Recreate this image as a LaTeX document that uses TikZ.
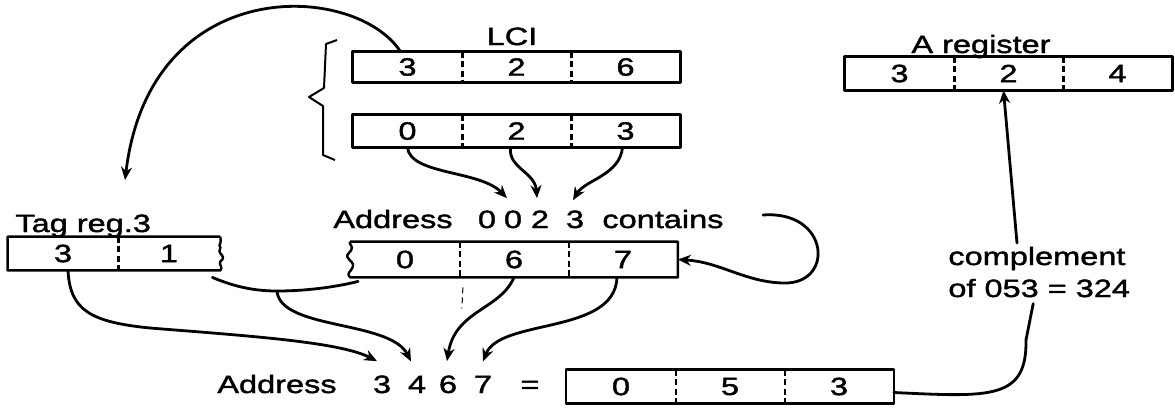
\documentclass[tikz,border=0pt]{standalone}
\usepackage{fontspec}
\setmainfont{Liberation Sans}[FakeStretch=1.3,FakeBold=1.6]
\usetikzlibrary{arrows.meta,calc}
\begin{document}
\begin{tikzpicture}[x=0.5pt,y=-0.5pt,
  txt/.style={font=\fontsize{12.5}{14}\selectfont},
  cell/.style={txt, inner sep=0pt, minimum width=54.5pt},
  box/.style={line width=1.2pt, line join=round},
  divider/.style={line width=1.3pt, dash pattern=on 3pt off 1.8pt},
  conn/.style={line width=1.4pt, line cap=round},
  arr/.style={conn, -{Stealth[length=6.5pt,width=5.5pt]}},
  lbl/.style={txt, inner sep=0pt},
]
\useasboundingbox (0,0) rectangle (1175,409);

% ---------- LCI registers ----------
\node[cell, minimum height=15pt] (l1a) at (407.5,67) {3};
\node[cell, minimum height=15pt] (l1b) at (516.5,67) {2};
\node[cell, minimum height=15pt] (l1c) at (625.5,67) {6};
\draw[box] (l1a.north west) rectangle (l1c.south east);
\draw[divider] (l1a.north east) -- (l1a.south east);
\draw[divider] (l1b.north east) -- (l1b.south east);
\node[lbl, anchor=base] (lci) at (512,45) {LCI};

\node[cell, minimum height=16pt] (l2a) at (407.5,131) {0};
\node[cell, minimum height=16pt] (l2b) at (516.5,131) {2};
\node[cell, minimum height=16pt] (l2c) at (625.5,131) {3};
\draw[box] (l2a.north west) rectangle (l2c.south east);
\draw[divider] (l2a.north east) -- (l2a.south east);
\draw[divider] (l2b.north east) -- (l2b.south east);

% brace
\draw[line width=1pt, line join=round] (337,40) -- (326,44) -- (324,88) -- (309,97) -- (323,106) -- (323,155) -- (335,160);

% ---------- A register ----------
\node[cell, minimum height=16.5pt] (a1) at (899.5,73.5) {3};
\node[cell, minimum height=16.5pt] (a2) at (1008.5,73.5) {2};
\node[cell, minimum height=16.5pt] (a3) at (1117.5,73.5) {4};
\draw[box] (a1.north west) rectangle (a3.south east);
\draw[divider] (a1.north east) -- (a1.south east);
\draw[divider] (a2.north east) -- (a2.south east);
\node[lbl, anchor=base] (areg) at (981,53) {A register};

% ---------- Tag reg.3 ----------
\node[cell, minimum width=55pt, minimum height=16.5pt] (t1) at (63,253.5) {3};
\node[cell, minimum width=51pt, minimum height=16.5pt] (t2) at (169,253.5) {1};
\draw[box] (t2.north east) -- (t1.north west) -- (t1.south west) -- (t2.south east)
  .. controls +(3,-3) and +(-2,3) .. ++(0,-9)
  .. controls +(4,-3) and +(3,3) .. ++(0,-8)
  .. controls +(-3,-3) and +(3,3) .. ++(-1,-8)
  .. controls +(2,-3) and +(0,2) .. (t2.north east);
\draw[divider] (t1.north east) -- (t1.south east);
\node[lbl, anchor=base west] (tag) at (15,232) {Tag reg.3};

% ---------- Address 0023 contains ----------
\node[lbl, anchor=base west] (addrA) at (333,228) {Address};
\node[lbl, anchor=base] (x1) at (487,228) {0};
\node[lbl, anchor=base] (x2) at (513,228) {0};
\node[lbl, anchor=base] (x3) at (540,228) {2};
\node[lbl, anchor=base] (x4) at (575,228) {3};
\node[lbl, anchor=base west] (cont) at (602,228) {contains};

\node[cell, minimum height=17.5pt] (m1) at (405,259.5) {0};
\node[cell, minimum height=17.5pt] (m2) at (514,259.5) {6};
\node[cell, minimum height=17.5pt] (m3) at (623,259.5) {7};
\draw[box] (m1.north west) -- (m3.north east) -- (m3.south east) -- (m1.south west)
  .. controls +(-4,-4) and +(-2,4) .. ++(2,-9)
  .. controls +(2,-4) and +(4,4) .. ++(-3,-9)
  .. controls +(-4,-4) and +(-3,4) .. ++(2,-9)
  .. controls +(3,-4) and +(-2,2) .. (m1.north west);
\draw[divider] (m1.north east) -- (m1.south east);
\draw[divider] (m2.north east) -- (m2.south east);
\draw[line width=0.5pt, dash pattern=on 3pt off 2pt] ($(m1.south east)+(3,10)$) -- ++(-1,21);

% ---------- Address 3467 = ----------
\node[lbl, anchor=base west] (addrB) at (217,393) {Address};
\node[lbl, anchor=base] (y3) at (382,393) {3};
\node[lbl, anchor=base] (y4) at (417,393) {4};
\node[lbl, anchor=base] (y6) at (448,393) {6};
\node[lbl, anchor=base] (y7) at (483,393) {7};
\node[lbl, anchor=base] (eq) at (530,393) {=};

\node[cell, minimum height=16.5pt] (b1) at (621,386.5) {0};
\node[cell, minimum height=16.5pt] (b2) at (730,386.5) {5};
\node[cell, minimum height=16.5pt] (b3) at (839,386.5) {3};
\draw[box] (b1.north west) rectangle (b3.south east);
\draw[divider] (b1.north east) -- (b1.south east);
\draw[divider] (b2.north east) -- (b2.south east);

% ---------- complement text ----------
\node[lbl, anchor=base west] (comp1) at (948,265) {complement};
\node[lbl, anchor=base west] (comp2) at (948,297) {of 053 = 324};

% ---------- connectors ----------
\coordinate (arcend) at (125,180);
\draw[arr] ($(l1a.north)+(-7,0)$) .. controls (355,-18) and (150,-28) .. (arcend);

\draw[arr] (l2a.south) .. controls (410,175) and (480,170) .. ($(x2.north)+(-6,-12)$);
\draw[arr] ($(l2b.south)+(-6,0)$) .. controls (508,168) and (535,172) .. ($(x3.north)+(-3,-12)$);
\draw[arr] ($(l2c.south)+(-3,0)$) .. controls (620,175) and (585,180) .. ($(x4.north)+(-2,-10)$);

\coordinate (lp) at (763,215);
\draw[arr] (lp) .. controls (830,210) and (835,285) .. (783,283) .. controls (745,282) and (720,262) .. (m3.east);

\draw[arr] ($(t1.south)+(5,0)$) .. controls (70,310) and (90,322) .. (150,328)
  .. controls (250,336) and (340,342) .. ($(y3.north)+(-5,-14)$);

\coordinate (jn) at (277,291);
\draw[conn] ($(t2.south east)+(-8,7)$) .. controls (235,287) and (255,291) .. (jn)
  .. controls (310,291) and (340,286) .. ($(m1.south west)+(8,4)$);
\draw[arr] (jn) .. controls (280,330) and (390,320) .. ($(y4.north)+(-6,-14)$);

\draw[arr] (m2.south) .. controls (500,310) and (455,310) .. ($(y6.north)+(-1,-14)$);
\draw[arr] ($(m3.south)+(-6,0)$) .. controls (615,335) and (500,318) .. ($(y7.north)+(0,-14)$);

\coordinate (cup) at (1017,243);
\draw[arr] (cup) -- ($(a2.south)+(-5,0)$);
\draw[conn] ($(b3.east)+(0,6)$) .. controls (990,397) and (1027,400) .. (1026,340) -- ($(comp2.south)+(-6,6)$);
\end{tikzpicture}
\end{document}
